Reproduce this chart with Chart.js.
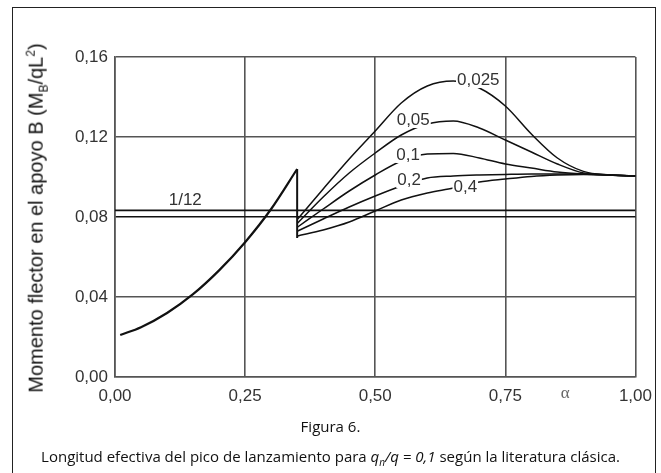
<!DOCTYPE html>
<html>
<head>
<meta charset="utf-8">
<script src="https://cdn.jsdelivr.net/npm/chart.js@4.4.1/dist/chart.umd.min.js"></script>
<style>
  body { margin: 0; background: #fff; }
  #wrap { position: relative; width: 661px; height: 473px; overflow: hidden; }
  #chart { position: absolute; left: 0; top: 0; }
  .frame { position: absolute; left: 12px; top: 7px; width: 642px; height: 470px; border: 1px solid #222; }
  .ytitle { position: absolute; left: 37px; top: 218px; transform: translate(-50%, -50%) rotate(-90deg);
    white-space: nowrap; font: 20px "Liberation Sans", Arial, sans-serif; color: #111; }
  .ytitle sub, .ytitle sup { font-size: 12px; }
  .fig { position: absolute; left: 0; width: 661px; top: 416px; text-align: center;
    font: 15px "Open Sans", sans-serif; color: #111; }
  .cap { position: absolute; left: 0; width: 661px; top: 446px; text-align: center;
    font: 15px "Open Sans", sans-serif; color: #111; }
  .cap sub { font-size: 10px; }
</style>
</head>
<body>
<div id="wrap">
  <div class="frame"></div>
  <canvas id="chart" width="661" height="473"></canvas>
  <div class="ytitle">Momento flector en el apoyo B (M<sub>B</sub>/qL<sup>2</sup>)</div>
  <div class="fig">Figura 6.</div>
  <div class="cap">Longitud efectiva del pico de lanzamiento para <i>q<sub>n</sub>/q = 0,1</i> según la literatura clásica.</div>
</div>
<script>
// axis ticks
const xTicks = [0, 0.25, 0.5, 0.75, 1];
const xTickLabels = ['0,00', '0,25', '0,50', '0,75', '1,00'];
const yTicks = [0, 0.04, 0.08, 0.12, 0.16];
const yTickLabels = ['0,00', '0,04', '0,08', '0,12', '0,16'];

// rising part before the drop
const mainAlpha = [0.01, 0.05, 0.10, 0.15, 0.20, 0.25, 0.30, 0.35];
const mainM = [0.021, 0.0249, 0.032, 0.0414, 0.0533, 0.0674, 0.084, 0.104];
const dropAlpha = [0.35, 0.35];
const dropM = [0.104, 0.0695];

// curves after the drop, one per ratio
const curveAlpha = [0.351, 0.40, 0.45, 0.50, 0.55, 0.60, 0.65, 0.70, 0.75, 0.80, 0.85, 0.90, 0.95, 1.00];
const m0025 = [0.079, 0.094, 0.109, 0.123, 0.137, 0.1455, 0.148, 0.1445, 0.1355, 0.1215, 0.1095, 0.1028, 0.101, 0.1005];
const m005 = [0.077, 0.090, 0.102, 0.112, 0.121, 0.1265, 0.128, 0.1245, 0.1185, 0.1125, 0.1065, 0.102, 0.101, 0.1005];
const m01 = [0.075, 0.084, 0.093, 0.101, 0.108, 0.1115, 0.1118, 0.1095, 0.1065, 0.1045, 0.1025, 0.1015, 0.101, 0.1005];
const m02 = [0.073, 0.079, 0.085, 0.0905, 0.0955, 0.0995, 0.1005, 0.101, 0.1013, 0.1015, 0.1015, 0.1015, 0.101, 0.1005];
const m04 = [0.0705, 0.0735, 0.0775, 0.083, 0.0885, 0.092, 0.0945, 0.0975, 0.099, 0.1003, 0.101, 0.1013, 0.101, 0.1005];

const curveNames = ['0,025', '0,05', '0,1', '0,2', '0,4'];
const labelAlpha = [0.698, 0.573, 0.563, 0.565, 0.673];
const labelM = [0.1485, 0.1285, 0.111, 0.0985, 0.095];

const refValue = 1 / 12;
const refAlpha = [0, 1];
const refLabel = '1/12';

function pts(xs, ys) {
  return xs.map((x, i) => ({ x: x, y: ys[i] }));
}

function curve(data, width) {
  return {
    data: data,
    borderColor: '#111',
    borderWidth: width,
    pointRadius: 0,
    fill: false,
    cubicInterpolationMode: 'monotone'
  };
}

const datasets = [
  curve(pts(mainAlpha, mainM), 2.2),
  Object.assign(curve(pts(dropAlpha, dropM), 2), { cubicInterpolationMode: 'default', tension: 0 }),
  curve(pts(curveAlpha, m0025), 1.5),
  curve(pts(curveAlpha, m005), 1.5),
  curve(pts(curveAlpha, m01), 1.5),
  curve(pts(curveAlpha, m02), 1.5),
  curve(pts(curveAlpha, m04), 1.5),
  Object.assign(curve(pts(refAlpha, [refValue, refValue]), 1.6), { tension: 0, cubicInterpolationMode: 'default' })
];

const labelsPlugin = {
  id: 'curveLabels',
  afterDatasetsDraw(chart) {
    const ctx = chart.ctx;
    const x = chart.scales.x, y = chart.scales.y;
    ctx.save();
    ctx.textAlign = 'center';
    ctx.textBaseline = 'middle';
    ctx.font = '17px "Liberation Sans", Arial, sans-serif';
    curveNames.forEach((t, i) => {
      const px = x.getPixelForValue(labelAlpha[i]);
      const py = y.getPixelForValue(labelM[i]);
      const w = ctx.measureText(t).width;
      ctx.fillStyle = '#fff';
      ctx.fillRect(px - w / 2 - 1, py - 8, w + 2, 16);
      ctx.fillStyle = '#333';
      ctx.fillText(t, px, py);
    });
    ctx.fillStyle = '#333';
    ctx.fillText(refLabel, x.getPixelForValue(0.135), y.getPixelForValue(0.0885));
    ctx.font = '17px "Liberation Serif", serif';
    ctx.fillStyle = '#666';
    ctx.fillText('α', x.getPixelForValue(0.865), y.bottom + 17);
    ctx.restore();
  }
};

new Chart(document.getElementById('chart').getContext('2d'), {
  type: 'line',
  data: { datasets: datasets },
  plugins: [labelsPlugin],
  options: {
    responsive: false,
    animation: false,
    devicePixelRatio: 1,
    layout: { padding: { left: 0, top: 57, right: 25, bottom: 0 } },
    plugins: { legend: { display: false }, tooltip: { enabled: false } },
    scales: {
      x: {
        type: 'linear',
        min: 0,
        max: 1,
        afterBuildTicks: s => { s.ticks = xTicks.map(v => ({ value: v })); },
        afterFit: s => { s.height = 96; },
        grid: { color: '#555', lineWidth: 1.6, drawTicks: false },
        border: { color: '#555', width: 1.6 },
        ticks: {
          padding: 9,
          color: '#333',
          font: { family: '"Liberation Sans", Arial, sans-serif', size: 17 },
          maxRotation: 0,
          callback: (v, i) => xTickLabels[i]
        }
      },
      y: {
        type: 'linear',
        min: 0,
        max: 0.16,
        afterBuildTicks: s => { s.ticks = yTicks.map(v => ({ value: v })); },
        afterFit: s => { s.width = 115; },
        grid: {
          color: c => (c.tick && c.tick.value === 0.08 ? '#111' : '#555'),
          lineWidth: 1.6,
          drawTicks: false
        },
        border: { color: '#555', width: 1.6 },
        ticks: {
          padding: 7,
          color: '#333',
          font: { family: '"Liberation Sans", Arial, sans-serif', size: 17 },
          callback: (v, i) => yTickLabels[i]
        }
      }
    }
  }
});
</script>
</body>
</html>
